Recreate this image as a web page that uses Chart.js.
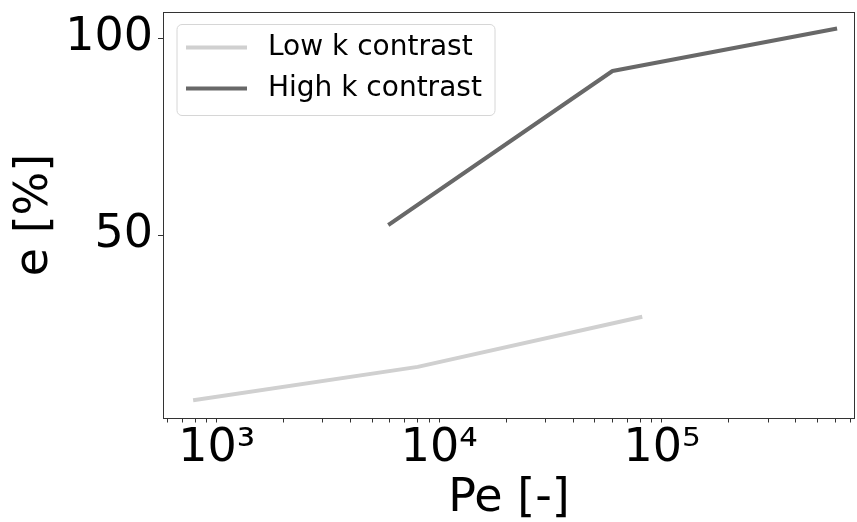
<!DOCTYPE html>
<html>
<head>
<meta charset="utf-8">
<script src="https://cdn.jsdelivr.net/npm/chart.js@4"></script>
<style>
  html, body { margin: 0; padding: 0; background: #ffffff; }
</style>
</head>
<body>
<canvas id="chartPe" width="857" height="522"></canvas>
<script>
// Datos
var LOW_PE = [800, 8000, 80000];
var LOW_E = [8.2, 16.6, 29.2];
var HIGH_PE = [6000, 60000, 600000];
var HIGH_E = [52.9, 91.7, 102.4];
var SERIES_LABELS = ['Low k contrast', 'High k contrast'];
var SERIES_COLORS = ['#d0d0d0', '#686868'];
var X_MAJOR_TICKS = [1000, 10000, 100000];
var X_MAJOR_LABELS = ['10³', '10⁴', '10⁵'];
var Y_TICKS = [50, 100];

var FONT = 'DejaVu Sans';

function toPoints(xs, ys) {
  return xs.map(function(x, i) { return { x: x, y: ys[i] }; });
}

// Marco completo (4 lados) como en matplotlib
var framePlugin = {
  id: 'frame',
  afterDatasetsDraw: function(chart) {
    var a = chart.chartArea;
    var ctx = chart.ctx;
    ctx.save();
    ctx.strokeStyle = '#333333';
    ctx.lineWidth = 1;
    ctx.strokeRect(Math.round(a.left) + 0.5, Math.round(a.top) + 0.5,
      Math.round(a.right - a.left) - 1, Math.round(a.bottom - a.top) - 1);
    ctx.restore();
  }
};

// Leyenda dentro del área del gráfico, arriba a la izquierda
var legendBoxPlugin = {
  id: 'legendBox',
  afterDraw: function(chart) {
    var ctx = chart.ctx;
    var a = chart.chartArea;
    var x0 = a.left + 14, y0 = a.top + 13, w = 318, h = 91, r = 5;
    ctx.save();
    ctx.beginPath();
    ctx.moveTo(x0 + r, y0);
    ctx.arcTo(x0 + w, y0, x0 + w, y0 + h, r);
    ctx.arcTo(x0 + w, y0 + h, x0, y0 + h, r);
    ctx.arcTo(x0, y0 + h, x0, y0, r);
    ctx.arcTo(x0, y0, x0 + w, y0, r);
    ctx.closePath();
    ctx.fillStyle = 'rgba(255,255,255,0.8)';
    ctx.fill();
    ctx.strokeStyle = '#d6d6d6';
    ctx.lineWidth = 1;
    ctx.stroke();

    chart.data.datasets.forEach(function(ds, i) {
      var yRow = y0 + 23 + i * 41;
      ctx.beginPath();
      ctx.moveTo(x0 + 9, yRow);
      ctx.lineTo(x0 + 70, yRow);
      ctx.strokeStyle = ds.borderColor;
      ctx.lineWidth = ds.borderWidth;
      ctx.lineCap = 'butt';
      ctx.stroke();
      ctx.fillStyle = '#000000';
      ctx.font = '28px "' + FONT + '"';
      ctx.textBaseline = 'middle';
      ctx.textAlign = 'left';
      ctx.fillText(ds.label, x0 + 91, yRow);
    });
    ctx.restore();
  }
};

var canvas = document.getElementById('chartPe');

new Chart(canvas, {
  type: 'line',
  data: {
    datasets: [
      { label: SERIES_LABELS[0], data: toPoints(LOW_PE, LOW_E), borderColor: SERIES_COLORS[0], backgroundColor: SERIES_COLORS[0],
        borderWidth: 4, pointRadius: 0, tension: 0, borderCapStyle: 'square', borderJoinStyle: 'round', fill: false },
      { label: SERIES_LABELS[1], data: toPoints(HIGH_PE, HIGH_E), borderColor: SERIES_COLORS[1], backgroundColor: SERIES_COLORS[1],
        borderWidth: 4, pointRadius: 0, tension: 0, borderCapStyle: 'square', borderJoinStyle: 'round', fill: false }
    ]
  },
  options: {
    responsive: false,
    animation: false,
    layout: { padding: { top: 11.5, right: 2, bottom: 0, left: 0 } },
    plugins: {
      legend: { display: false },
      tooltip: { enabled: false }
    },
    scales: {
      x: {
        type: 'logarithmic',
        min: 574,
        max: 737000,
        afterBuildTicks: function(scale) {
          var ticks = [];
          for (var e = 2; e <= 5; e++) {
            for (var m = 1; m <= 9; m++) {
              var v = m * Math.pow(10, e);
              if (v >= scale.min && v <= scale.max) ticks.push({ value: v });
            }
          }
          scale.ticks = ticks;
        },
        afterFit: function(scale) {
          scale.height = 103.5;
          scale.paddingLeft = 0;
          scale.paddingRight = 0;
        },
        border: { display: false },
        grid: { drawOnChartArea: false, drawTicks: true, tickLength: 4, tickColor: '#333333' },
        ticks: {
          autoSkip: false,
          maxRotation: 0,
          padding: 4,
          color: '#000000',
          font: { family: FONT, size: 46, lineHeight: 1 },
          callback: function(value) {
            var idx = X_MAJOR_TICKS.indexOf(value);
            return idx >= 0 ? X_MAJOR_LABELS[idx] : '';
          }
        },
        title: {
          display: true,
          text: 'Pe [-]',
          color: '#000000',
          font: { family: FONT, size: 46, lineHeight: 1 },
          padding: { top: 0, bottom: 0 }
        }
      },
      y: {
        type: 'linear',
        min: 3.5,
        max: 106.8,
        afterBuildTicks: function(scale) {
          scale.ticks = Y_TICKS.map(function(v) { return { value: v }; });
        },
        afterFit: function(scale) {
          scale.width = 163;
          scale.paddingTop = 0;
          scale.paddingBottom = 0;
        },
        border: { display: false },
        grid: { drawOnChartArea: false, drawTicks: true, tickLength: 5, tickColor: '#333333' },
        ticks: {
          padding: 5,
          color: '#000000',
          font: { family: FONT, size: 46, lineHeight: 1 }
        },
        title: {
          display: true,
          text: 'e [%]',
          color: '#000000',
          font: { family: FONT, size: 46, lineHeight: 1 },
          padding: { top: 12, bottom: 0 }
        }
      }
    }
  },
  plugins: [framePlugin, legendBoxPlugin]
});
</script>
</body>
</html>
